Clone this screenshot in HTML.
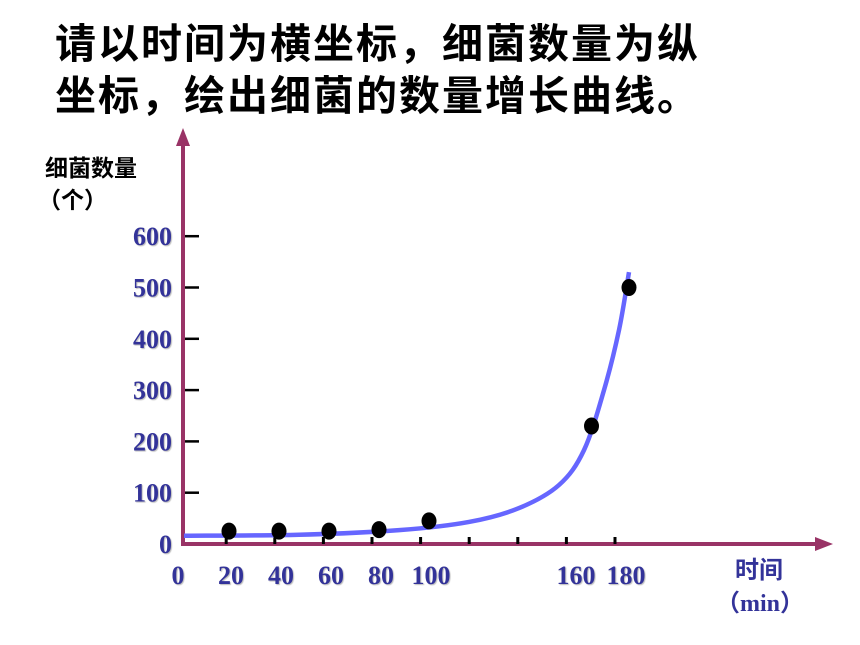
<!DOCTYPE html>
<html><head><meta charset="utf-8"><style>
html,body{margin:0;padding:0;background:#fff;}
body{width:860px;height:645px;position:relative;overflow:hidden;font-family:"Liberation Serif","Noto Serif CJK SC",serif;}
.t{position:absolute;left:55px;font-family:"Liberation Sans","Noto Sans CJK SC",sans-serif;font-size:41px;line-height:48px;font-weight:bold;color:#000;letter-spacing:2px;margin:0;white-space:nowrap;}
</style></head><body>
<div class="t" style="top:20px">请以时间为横坐标，细菌数量为纵</div>
<div class="t" style="top:72px">坐标，绘出细菌的数量增长曲线。</div>
<svg id="c" width="860" height="645" style="position:absolute;left:0;top:0"></svg>
<script>
const times=[20,40,60,80,100,165,180];
const counts=[25,25,25,28,45,230,500];
const curveTimes=[2,48,88,116,136,152,162,170,176,180];
const curveValues=[16,18,27,43,70,115,183,300,417,530];
const yTicks=[0,100,200,300,400,500,600];
const xTickLabels=[0,20,40,60,80,100,160,180];
const xTickCount=9;
const NS="http://www.w3.org/2000/svg";
const svg=document.getElementById('c');
const xs=t=>179+t*2.5;
const ys=v=>544-v*0.513;
function mk(tag,attrs,parent){const e=document.createElementNS(NS,tag);for(const k in attrs)e.setAttribute(k,attrs[k]);(parent||svg).appendChild(e);return e;}
const axisCol="#993366",lab="#333399";
let ya=mk('line',{x1:183,y1:546,x2:183,y2:142,stroke:axisCol,'stroke-width':4});

let yar=mk('polygon',{points:'183,128 176,146 190,146',fill:axisCol});

let xa=mk('line',{x1:183,y1:544,x2:818,y2:544,stroke:axisCol,'stroke-width':4});

let xar=mk('polygon',{points:'833,544 815,537 815,551',fill:axisCol});

yTicks.forEach(v=>{
  if(v>0){const l=mk('line',{x1:185,y1:ys(v),x2:199,y2:ys(v),stroke:'#000','stroke-width':2.5});
  }
  const t=mk('text',{x:172,y:ys(v)+9,'text-anchor':'end','font-size':26,'font-weight':'bold',fill:lab,style:'text-shadow:1px 1px 1px #bbb'});
  t.textContent=v;
});
for(let i=1;i<xTickCount+1;i++){
  const x=177.6+i*48.6;
  const l=mk('line',{x1:x,y1:537,x2:x,y2:544,stroke:'#000','stroke-width':3});
  
}
xTickLabels.forEach(v=>{
  const x=v===0?178:(v>=160?xs(v)-3:xs(v)+2);
  const t=mk('text',{x:x,y:584,'text-anchor':'middle','font-size':26,'font-weight':'bold',fill:lab,style:'text-shadow:1px 1px 1px #bbb'});
  t.textContent=v;
});
const P=curveTimes.map((t,i)=>[xs(t),ys(curveValues[i])]);
let d='M'+P[0][0]+','+P[0][1];
for(let i=0;i<P.length-1;i++){
  const p0=P[i-1]||P[i],p1=P[i],p2=P[i+1],p3=P[i+2]||P[i+1];
  d+=' C'+(p1[0]+(p2[0]-p0[0])/6)+','+(p1[1]+(p2[1]-p0[1])/6)+' '+(p2[0]-(p3[0]-p1[0])/6)+','+(p2[1]-(p3[1]-p1[1])/6)+' '+p2[0]+','+p2[1];
}
const cv=mk('path',{d:d,fill:'none',stroke:'#6666ff','stroke-width':4.5});

times.forEach((t,i)=>{
  const e=mk('ellipse',{cx:xs(t),cy:ys(counts[i]),rx:7.5,ry:8.5,fill:'#000'});
  
});
function txt(s,x,y,name,size,col){const t=mk('text',{x:x,y:y,'font-size':size,'font-weight':'bold',fill:col,'font-family':'"Liberation Serif","Noto Sans CJK SC",serif'});t.textContent=s;}
txt('细菌数量',45,176,'y-axis-title',23,'#000');
txt('（个）',38,208,'y-axis-unit',23,'#000');
txt('时间',735,578,'x-axis-title',24,lab);
txt('（min）',716,611,'x-axis-unit',24,lab);
</script>
</body></html>
